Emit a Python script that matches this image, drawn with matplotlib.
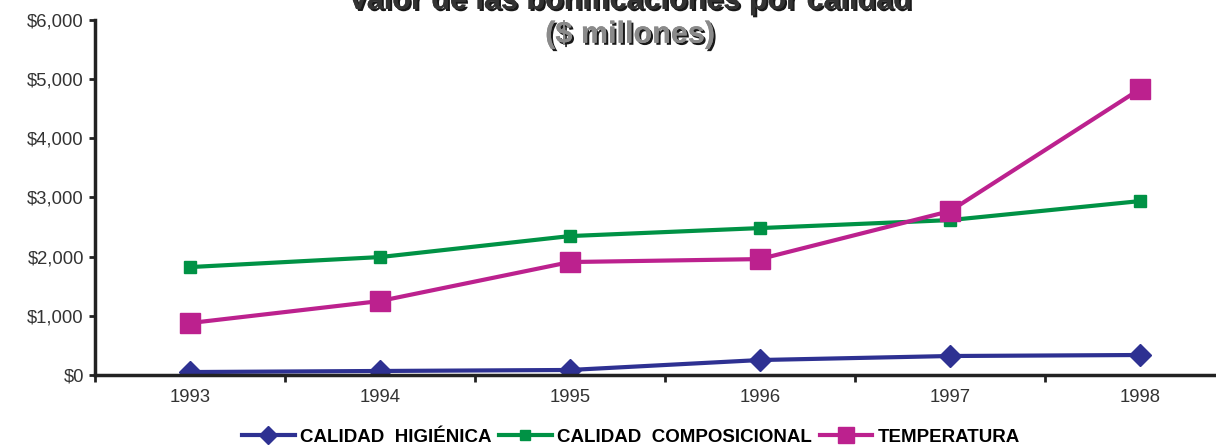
import matplotlib
matplotlib.use("Agg")
import matplotlib.pyplot as plt
import matplotlib.patheffects as pe
from matplotlib.ticker import FuncFormatter

plt.rcParams['font.family'] = ['Liberation Sans', 'DejaVu Sans']

years = ['1993', '1994', '1995', '1996', '1997', '1998']
higienica = [50, 68, 85, 253, 321, 338]
composicional = [1824, 1993, 2348, 2483, 2618, 2939]
temperatura = [878, 1250, 1909, 1959, 2770, 4831]

fig = plt.figure(figsize=(12.16, 4.45), dpi=100)
ax = fig.add_axes([0.0781, 0.1573, 0.9375, 0.7978])

x = [i + 0.5 for i in range(len(years))]
ax.plot(x, higienica, color='#2E3192', lw=3, marker='D', ms=11, label='CALIDAD  HIGIÉNICA')
ax.plot(x, composicional, color='#009245', lw=3, marker='s', ms=9, label='CALIDAD  COMPOSICIONAL')
ax.plot(x, temperatura, color='#BC218E', lw=3, marker='s', ms=14, label='TEMPERATURA')

ax.set_xlim(0, 6)
ax.set_ylim(0, 6000)
ax.set_yticks(range(0, 6001, 1000))
ax.yaxis.set_major_formatter(FuncFormatter(lambda v, p: '${:,.0f}'.format(v)))
# category boundaries get the tick marks, year labels sit between them
ax.set_xticks(range(0, 7))
ax.set_xticklabels([])
ax.set_xticks(x, minor=True)
ax.set_xticklabels(years, minor=True)
ax.tick_params(axis='x', which='minor', length=0, pad=10, labelsize=13.3, colors='#333333')
ax.tick_params(axis='x', which='major', length=5, width=2, direction='out')
ax.tick_params(axis='y', length=4, width=2, labelsize=13.3, colors='#333333', pad=4)
ax.tick_params(axis='both', color='#222222')
for s in ['top', 'right']:
    ax.spines[s].set_visible(False)
for s in ['left', 'bottom']:
    ax.spines[s].set_linewidth(2.5)
    ax.spines[s].set_color('#222222')
ax.spines['left'].set_zorder(5)

shadow = [pe.withSimplePatchShadow(offset=(1.5, -1.5), shadow_rgbFace='black', alpha=0.9), pe.Normal()]
fig.text(0.518, 0.998, 'Valor de las bonificaciones por calidad', ha='center', va='center',
         fontsize=22, fontweight='bold', color='#333333', path_effects=shadow)
fig.text(0.518, 0.922, '($ millones)', ha='center', va='center',
         fontsize=22, fontweight='bold', color='#8a8a8a', path_effects=shadow)

fig.legend(loc='center', bbox_to_anchor=(0.519, 0.018), ncol=3, frameon=False,
           prop={'weight': 'bold', 'size': 13.5}, handlelength=2.8, handletextpad=0.3,
           columnspacing=0.4, markerscale=0.8)

plt.savefig('out.png', dpi=100)
